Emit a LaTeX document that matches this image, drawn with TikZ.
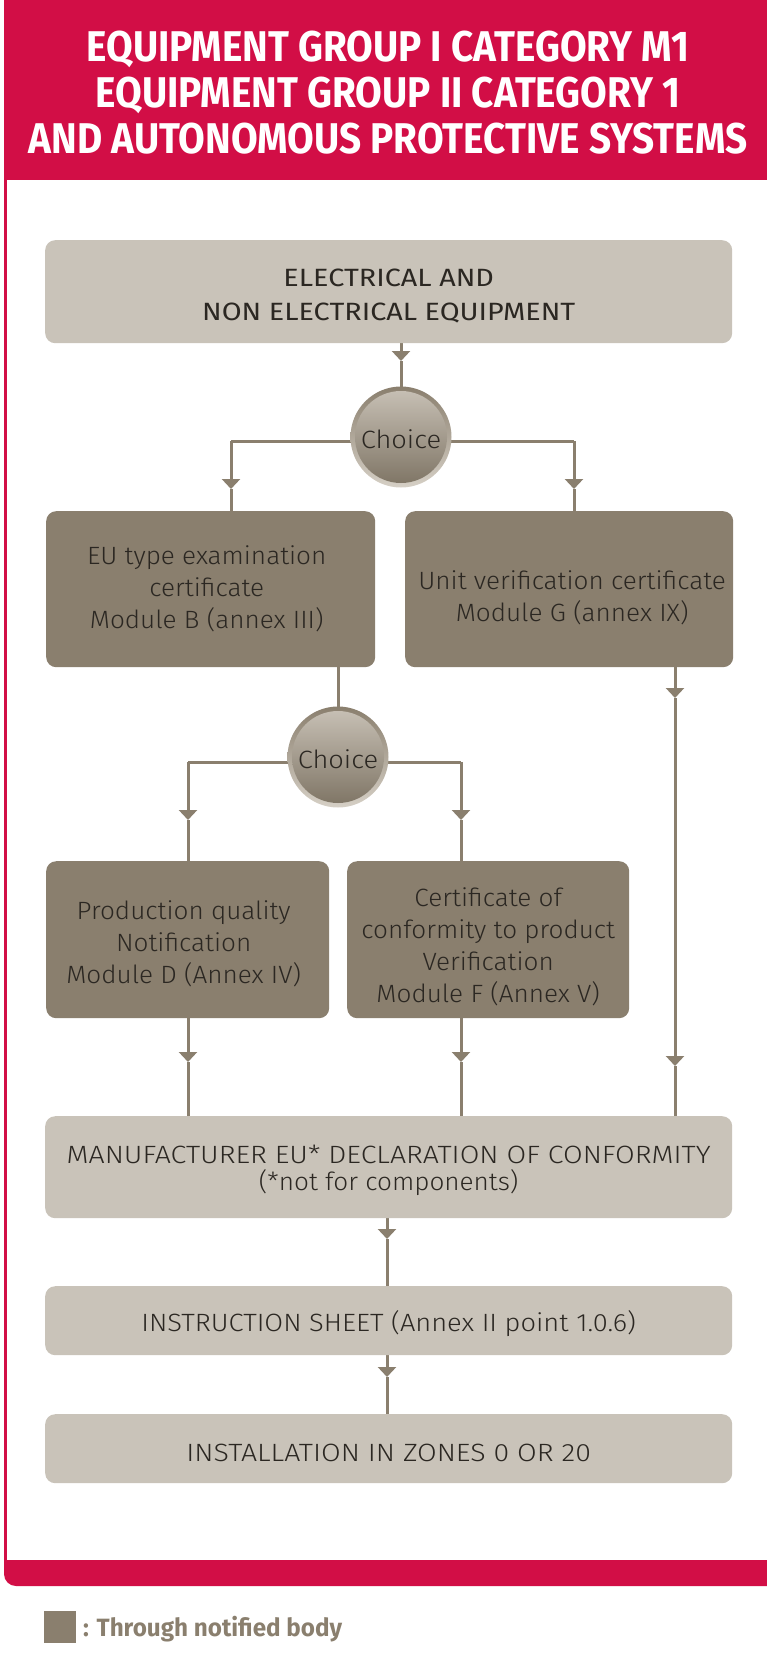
\documentclass[tikz,border=0pt]{standalone}
\usepackage{fontspec}
\setmainfont{Fira Sans Light}
\newfontfamily\medfont{Fira Sans}[FakeStretch=1.15]
\newfontfamily\boldfont{Fira Sans Bold}[FakeStretch=0.9]
\newfontfamily\legfont{Fira Sans Bold}[FakeStretch=0.97]
\newfontfamily\lightfont{Fira Sans Light}[FakeStretch=1.09]
\newfontfamily\lcfont{Fira Sans Light}[FakeStretch=1.045]
\newfontfamily\capsfont{Fira Sans Light}[FakeStretch=1.14]
\usetikzlibrary{arrows.meta,backgrounds}
\definecolor{exred}{HTML}{D20E46}
\definecolor{boxdark}{HTML}{8A7F6E}
\definecolor{boxlight}{HTML}{C9C3B9}
\definecolor{txt}{HTML}{2B2722}
\definecolor{ringtop}{HTML}{8A7F6E}
\definecolor{ringbot}{HTML}{D6D0C6}
\definecolor{ctop}{HTML}{C9C2B7}
\definecolor{cbot}{HTML}{7D7363}
\tikzset{
  basebox/.style={anchor=north west, rounded corners=10pt, inner sep=0pt},
  lightbox/.style={basebox, fill=boxlight},
  darkbox/.style={basebox, fill=boxdark},
  boxtext/.style={inner sep=0pt, align=center, text=txt, font=\lightfont\fontsize{25}{32}\selectfont},
  darktext/.style={boxtext, font=\lcfont\fontsize{25}{32}\selectfont},
  capstext/.style={boxtext, font=\capsfont\fontsize{25}{32}\selectfont},
  choice/.style={circle, minimum size=101pt, inner sep=0pt, top color=ringtop, bottom color=ringbot,
    path picture={\shade[top color=ctop, bottom color=cbot] (path picture bounding box.center) circle (46pt);}},
  conn/.style={draw=boxdark, line width=3pt},
  tip/.style={conn, -{Triangle[width=18pt,length=10pt]}},
}
\begin{document}
\begin{tikzpicture}[x=1pt,y=-1pt]
\useasboundingbox (0,0) rectangle (767,1664);
% frame
\fill[exred] (4,0) rectangle (767,180);
\draw[exred, line width=2.5pt] (5.5,178) -- (5.5,1565);
\fill[exred] (4,1560) [rounded corners=12pt] -- (4,1586) [sharp corners] -- (767,1586) -- (767,1560) -- cycle;
\node[text=white, align=center, font=\boldfont\fontsize{43}{46}\selectfont] (title) at (388,93)
  {EQUIPMENT GROUP I CATEGORY M1\\EQUIPMENT GROUP II CATEGORY 1\\AND AUTONOMOUS PROTECTIVE SYSTEMS};
% boxes
\node[lightbox, minimum width=687pt, minimum height=103pt] (box1) at (45,240) {};
\node[boxtext, font=\medfont\fontsize{25}{34}\selectfont] (t1) at ([yshift=-4pt]box1.center)
  {ELECTRICAL AND\\NON ELECTRICAL EQUIPMENT};
\node[choice] (ch1) at (401,437) {};
\node[boxtext] (c1) at ([yshift=-2pt]ch1.center) {Choice};
\node[darkbox, minimum width=329pt, minimum height=156pt] (box2) at (46,511) {};
\node[darktext] (t2) at ([xshift=-4pt]box2.center)
  {EU type examination\\certificate\\Module B (annex III)};
\node[darkbox, minimum width=328pt, minimum height=156pt] (box3) at (405,511) {};
\node[darktext] (t3) at ([xshift=3pt,yshift=-9pt]box3.center)
  {Unit verification certificate\\Module G (annex IX)};
\node[choice] (ch2) at (338,757) {};
\node[boxtext] (c2) at ([yshift=-2pt]ch2.center) {Choice};
\node[darkbox, minimum width=283pt, minimum height=157pt] (box4) at (46,861) {};
\node[darktext] (t4) at ([xshift=-4pt,yshift=-4pt]box4.center)
  {Production quality\\Notification\\Module D (Annex IV)};
\node[darkbox, minimum width=282pt, minimum height=157pt] (box5) at (347,861) {};
\node[darktext] (t5) at ([yshift=-7pt]box5.center)
  {Certificate of\\conformity to product\\Verification\\Module F (Annex V)};
\node[lightbox, minimum width=687pt, minimum height=102pt] (box6) at (45,1116) {};
\node[capstext] (t6) at ([yshift=-3pt]box6.center)
  {MANUFACTURER EU* DECLARATION OF CONFORMITY\\[-5pt]{\lcfont(*not for components)}};
\node[lightbox, minimum width=687pt, minimum height=69pt] (box7) at (45,1286) {};
\node[boxtext] (t7) at ([yshift=-3pt]box7.center) {INSTRUCTION SHEET (Annex II point 1.0.6)};
\node[lightbox, minimum width=687pt, minimum height=69pt] (box8) at (45,1414) {};
\node[capstext] (t8) at ([yshift=-4pt]box8.center) {INSTALLATION IN ZONES 0 OR 20};
% legend
\node[fill=boxdark, minimum size=32pt, inner sep=0pt, anchor=north west] (leg) at (44,1611) {};
\node[anchor=west, text=boxdark, inner sep=0pt, font=\legfont\fontsize{25}{28}\selectfont] (legtext) at (83,1629)
  {: Through notified body};
% connectors
\coordinate (a1) at (401,361);
\coordinate (h1l) at (231,441);
\coordinate (h1r) at (574,441);
\coordinate (a2) at (231,489);
\coordinate (a3) at (574,489);
\coordinate (h2l) at (188,762);
\coordinate (h2r) at (461,762);
\coordinate (a4) at (188,820);
\coordinate (a5) at (461,820);
\coordinate (a6) at (188,1062);
\coordinate (a7) at (461,1062);
\coordinate (a8) at (675,698);
\coordinate (a9) at (675,1066);
\coordinate (a10) at (387,1239);
\coordinate (a11) at (387,1377);
\begin{scope}[on background layer]
\draw[tip] (box1.south -| a1) -- (a1);
\draw[conn] (a1) -- (ch1.center);
\draw[conn] (ch1.center |- h1l) -- (h1l);
\draw[conn] (ch1.center |- h1r) -- (h1r);
\draw[tip] (h1l) -- (a2);
\draw[conn] (a2) -- (box2.north -| a2);
\draw[tip] (h1r) -- (a3);
\draw[conn] (a3) -- (box3.north -| a3);
\draw[conn] (box2.south -| ch2) -- (ch2.center);
\draw[conn] (ch2.center |- h2l) -- (h2l);
\draw[conn] (ch2.center |- h2r) -- (h2r);
\draw[tip] (h2l) -- (a4);
\draw[conn] (a4) -- (box4.north -| a4);
\draw[tip] (h2r) -- (a5);
\draw[conn] (a5) -- (box5.north -| a5);
\draw[tip] (box4.south -| a6) -- (a6);
\draw[conn] (a6) -- (box6.north -| a6);
\draw[tip] (box5.south -| a7) -- (a7);
\draw[conn] (a7) -- (box6.north -| a7);
\draw[tip] (box3.south -| a8) -- (a8);
\draw[tip] (a8) -- (a9);
\draw[conn] (a9) -- (box6.north -| a9);
\draw[tip] (box6.south -| a10) -- (a10);
\draw[conn] (a10) -- (box7.north -| a10);
\draw[tip] (box7.south -| a11) -- (a11);
\draw[conn] (a11) -- (box8.north -| a11);
\end{scope}
\end{tikzpicture}
\end{document}
